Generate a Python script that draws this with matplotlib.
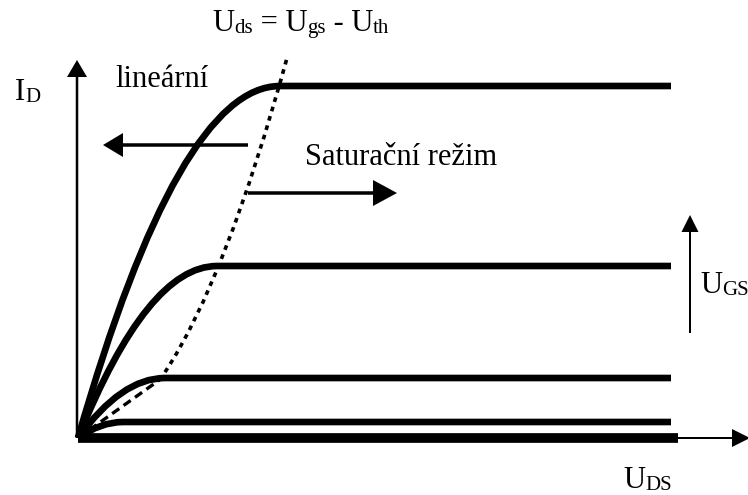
"""MOSFET output characteristic I_D(U_DS) for several U_GS levels."""

import matplotlib

matplotlib.use("Agg")

import matplotlib.pyplot as plt
from matplotlib.patches import FancyArrow, PathPatch
from matplotlib.path import Path

plt.rcParams["font.family"] = ["Liberation Serif", "DejaVu Serif"]

# saturation current and knee voltage of each curve (top to bottom)
id_sat = [3.52, 1.72, 0.60, 0.16, 0.0]
vds_knee = [2.02, 1.39, 0.87, 0.45, 0.0]
vds_end = [5.93, 5.93, 5.93, 5.93, 6.00]

# locus U_ds = U_gs - U_th: dashed start, dotted upper end
locus_vds = [0.0, 0.87, 2.09]
locus_id = [0.0, 0.62, 3.80]

# labels as (text, is_subscript) pieces
label_formula = [("U", False), ("ds", True), (" = U", False), ("gs", True),
                 (" - U", False), ("th", True)]
label_id = [("I", False), ("D", True)]
label_ugs = [("U", False), ("GS", True)]
label_uds = [("U", False), ("DS", True)]
label_linear = "lineární"
label_sat = "Saturační režim"

FS = 22
FS_SUB = 15

fig = plt.figure(figsize=(7.48, 4.95), dpi=100)
ax = fig.add_axes([0, 0, 1, 1])
ax.set_xlim(-0.78, 6.70)
ax.set_ylim(-0.57, 4.38)
ax.axis("off")


def arrow(x, y, dx, dy, width, head_width, head_length):
    ax.add_patch(
        FancyArrow(
            x, y, dx, dy,
            width=width,
            head_width=head_width,
            head_length=head_length,
            length_includes_head=True,
            color="black",
            linewidth=0,
        )
    )


def sub_label(x, y, pieces):
    """Write text pieces one after another, subscripts smaller."""
    prev = None
    for text, is_sub in pieces:
        size = FS_SUB if is_sub else FS
        if prev is None:
            prev = ax.text(x, y, text, fontsize=size, ha="left", va="bottom")
        else:
            prev = ax.annotate(text, xy=(1, 0), xycoords=prev, fontsize=size,
                               ha="left", va="bottom")


# axes
arrow(-0.01, 0.0, 0.0, 3.78, 0.025, 0.20, 0.17)
arrow(0.0, 0.0, 6.72, 0.0, 0.02, 0.18, 0.18)

# characteristic curves: parabola up to the knee, then flat
for isat, vk, vend in zip(id_sat, vds_knee, vds_end):
    if vk <= 0:
        ax.plot([0, vend], [isat, isat], color="black", lw=7,
                solid_capstyle="butt")
        continue
    path = Path(
        [(0, 0), (vk / 2, isat), (vk, isat), (vend, isat)],
        [Path.MOVETO, Path.CURVE3, Path.CURVE3, Path.LINETO],
    )
    ax.add_patch(PathPatch(path, fill=False, lw=4.8, color="black",
                           capstyle="butt", joinstyle="round"))

# locus line
ax.plot(locus_vds[:2], locus_id[:2], color="black", lw=2.4,
        linestyle=(0, (2.6, 1.6)), dash_capstyle="butt")
k = locus_id[2] / locus_vds[2] ** 2
va, vb = locus_vds[1], locus_vds[2]
locus_path = Path(
    [(va, k * va * va), ((va + vb) / 2, k * va * vb), (vb, k * vb * vb)],
    [Path.MOVETO, Path.CURVE3, Path.CURVE3],
)
ax.add_patch(PathPatch(locus_path, fill=False, lw=2.6, color="black",
                       linestyle=(0, (1.3, 1.4)), capstyle="butt"))

# region arrows
arrow(1.70, 2.93, -1.45, 0.0, 0.035, 0.24, 0.20)
arrow(1.70, 2.45, 1.49, 0.0, 0.035, 0.26, 0.24)
arrow(6.12, 1.05, 0.0, 1.18, 0.02, 0.17, 0.17)

# texts (y is the bottom of the text box, i.e. baseline minus descent)
sub_label(1.34, 4.00, label_formula)
sub_label(-0.63, 3.31, label_id)
sub_label(6.22, 1.38, label_ugs)
sub_label(5.45, -0.57, label_uds)
ax.text(0.37, 3.51, label_linear, fontsize=FS, va="baseline", ha="left")
ax.text(2.27, 2.73, label_sat, fontsize=FS, va="baseline", ha="left")

fig.savefig("out.png", dpi=100)
